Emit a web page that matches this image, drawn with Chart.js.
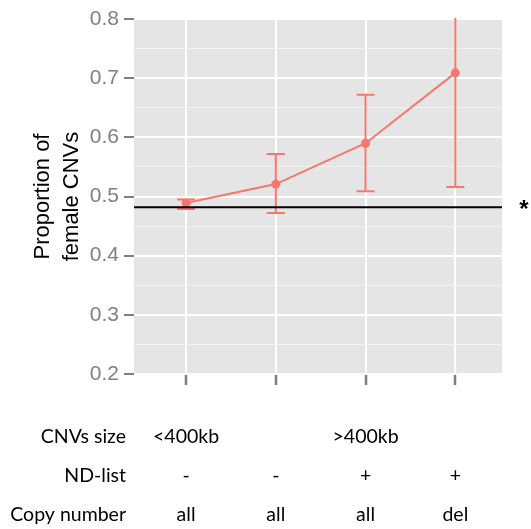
<!DOCTYPE html>
<html><head><meta charset="utf-8">
<script src="https://cdn.jsdelivr.net/npm/chart.js@4"></script>
<style>html,body{margin:0;padding:0;background:#fff}#wrap{position:relative;width:531px;height:529px}</style>
</head><body><div id="wrap"><canvas id="c" width="531" height="529"></canvas></div>
<script>
const categories = [1, 2, 3, 4];
const proportion = [0.489, 0.521, 0.590, 0.709];
const ciLow = [0.479, 0.472, 0.509, 0.516];
const ciHigh = [0.495, 0.572, 0.672, 0.900];
const referenceLine = 0.482;
const yTickValues = [0.2, 0.25, 0.3, 0.35, 0.4, 0.45, 0.5, 0.55, 0.6, 0.65, 0.7, 0.75, 0.8];
const rowLabels = ['CNVs size', 'ND-list', 'Copy number'];
const sizeRow = [{pos: 1, text: '<400kb'}, {pos: 3, text: '>400kb'}];
const ndListRow = ['-', '-', '+', '+'];
const copyNumberRow = ['all', 'all', 'all', 'del'];
const yTitle = ['Proportion of', 'female CNVs'];
const marker = '*';

const RED = '#F8766D';
const isMajor = v => Math.abs(Math.round(v * 10) - v * 10) < 1e-6;

const panelPlugin = {
  id: 'panel',
  beforeDraw(chart) {
    const {ctx, chartArea: a} = chart;
    ctx.save();
    ctx.fillStyle = '#E5E5E5';
    ctx.fillRect(a.left, a.top, a.right - a.left, a.bottom - a.top);
    ctx.restore();
  },
  beforeDatasetsDraw(chart) {
    const {ctx, chartArea: a, scales: {x, y}} = chart;
    ctx.save();
    ctx.beginPath();
    ctx.rect(a.left, a.top - 1, a.right - a.left, a.bottom - a.top + 1);
    ctx.clip();
    ctx.strokeStyle = RED;
    ctx.lineWidth = 2;
    const capHalf = 9;
    categories.forEach((c, i) => {
      const px = x.getPixelForValue(c);
      const lo = y.getPixelForValue(ciLow[i]);
      const hi = y.getPixelForValue(ciHigh[i]);
      ctx.beginPath();
      ctx.moveTo(px, lo); ctx.lineTo(px, hi);
      ctx.moveTo(px - capHalf, lo); ctx.lineTo(px + capHalf, lo);
      ctx.moveTo(px - capHalf, hi); ctx.lineTo(px + capHalf, hi);
      ctx.stroke();
    });
    ctx.restore();
  },
  afterDatasetsDraw(chart) {
    const {ctx, chartArea: a, scales: {x, y}} = chart;
    const py = y.getPixelForValue(referenceLine);
    ctx.save();
    ctx.strokeStyle = '#000';
    ctx.lineWidth = 2;
    ctx.beginPath();
    ctx.moveTo(a.left, py); ctx.lineTo(a.right, py);
    ctx.stroke();
    ctx.fillStyle = '#000';
    ctx.font = 'bold 24px "Liberation Sans"';
    ctx.textAlign = 'center';
    ctx.textBaseline = 'middle';
    ctx.fillText(marker, a.right + 22, py + 3);
    ctx.restore();
  },
  afterDraw(chart) {
    const {ctx, scales: {x}} = chart;
    ctx.save();
    ctx.fillStyle = '#000';
    ctx.font = '19.5px Lato';
    ctx.textBaseline = 'middle';
    const rowsY = [437, 476, 515];
    ctx.textAlign = 'right';
    rowLabels.forEach((t, i) => ctx.fillText(t, 126, rowsY[i]));
    ctx.textAlign = 'center';
    sizeRow.forEach(s => ctx.fillText(s.text, x.getPixelForValue(s.pos), rowsY[0]));
    ndListRow.forEach((t, i) => ctx.fillText(t, x.getPixelForValue(categories[i]), rowsY[1]));
    copyNumberRow.forEach((t, i) => ctx.fillText(t, x.getPixelForValue(categories[i]), rowsY[2]));
    ctx.restore();
  }
};

new Chart(document.getElementById('c'), {
  type: 'line',
  data: {
    datasets: [{
      data: categories.map((c, i) => ({x: c, y: proportion[i]})),
      borderColor: RED,
      backgroundColor: RED,
      borderWidth: 2,
      pointRadius: 4.5,
      pointBorderWidth: 0,
      pointHoverRadius: 4.5,
      tension: 0
    }]
  },
  options: {
    responsive: false,
    animation: false,
    events: [],
    layout: {padding: {top: 19, right: 29, left: 0, bottom: 0}},
    plugins: {legend: {display: false}, tooltip: {enabled: false}},
    scales: {
      x: {
        type: 'linear', min: 0.42, max: 4.52,
        afterBuildTicks: s => { s.ticks = categories.map(v => ({value: v})); },
        ticks: {callback: () => '', font: {size: 12}},
        grid: {color: '#FFFFFF', lineWidth: 2, tickColor: '#7F7F7F', tickLength: 11, tickWidth: 2.5},
        border: {display: false},
        afterFit: s => { s.height = 155; }
      },
      y: {
        type: 'linear', min: 0.2, max: 0.8,
        afterBuildTicks: s => { s.ticks = yTickValues.map(v => ({value: v})); },
        ticks: {
          callback: v => isMajor(v) ? v.toFixed(1) : '',
          font: {size: 21, family: '"Liberation Sans"'},
          color: '#7F7F7F', padding: 5, autoSkip: false
        },
        grid: {
          color: c => isMajor(c.tick.value) ? '#FFFFFF' : '#F2F2F2',
          lineWidth: c => isMajor(c.tick.value) ? 2 : 1,
          tickColor: c => isMajor(c.tick.value) ? '#7F7F7F' : 'rgba(0,0,0,0)',
          tickLength: 10, tickWidth: 2
        },
        border: {display: false},
        title: {
          display: true, text: yTitle, color: '#000',
          font: {size: 22, family: '"Liberation Sans"', lineHeight: 1.3},
          padding: {top: 29, bottom: 0}
        },
        afterFit: s => { s.width = 134; }
      }
    }
  },
  plugins: [panelPlugin]
});
</script></body></html>
